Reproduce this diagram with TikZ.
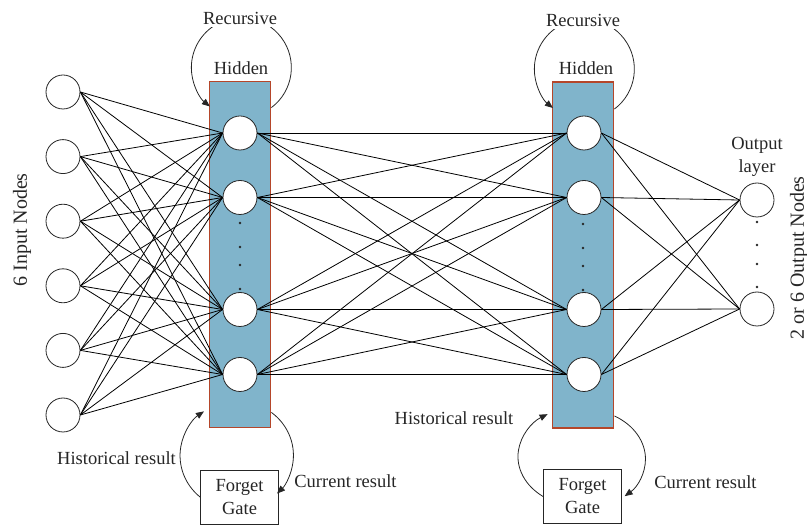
\documentclass[tikz,border=0pt]{standalone}
\usepackage{fontspec}
\setmainfont{Liberation Serif}
\usetikzlibrary{arrows.meta}
\definecolor{barblue}{HTML}{80B4CB}
\definecolor{barrim}{HTML}{B5462A}
\definecolor{ink}{HTML}{262626}
\tikzset{
  lbl/.style={font=\fontsize{18.5}{23}\selectfont, text=ink, inner sep=1pt, align=center},
  sidelbl/.style={font=\fontsize{20}{24}\selectfont, text=ink, inner sep=1pt, rotate=90},
  neuron/.style={circle, draw=ink, fill=white, line width=0.8pt, minimum size=34pt, inner sep=0pt},
  layerbar/.style={rectangle, draw=barrim, fill=barblue, line width=1.9pt, minimum width=61pt, minimum height=346pt, inner sep=0pt},
  gatebox/.style={rectangle, draw=ink, fill=white, line width=0.9pt, minimum width=78pt, minimum height=54pt, inner sep=0pt, align=center, font=\fontsize{18.5}{23}\selectfont, text=ink},
  link/.style={draw=black, line width=0.8pt},
  feedback/.style={draw=ink, line width=0.8pt, -{Triangle[length=8pt,width=6.5pt]}},
  gapdot/.style={fill=ink}
}
\begin{document}
\begin{tikzpicture}[x=1pt, y=-1pt]
\useasboundingbox (0,0) rectangle (807,529);

% hidden layers
\node[layerbar] (barA) at (240,254.5) {};
\node[layerbar] (barB) at (583,255) {};

% input layer
\foreach \k in {1,...,6}
  \node[neuron] (i\k) at (63,{92+64.6*(\k-1)}) {};

% hidden neurons
\foreach \k/\yy in {1/133,2/197.5,3/309.5,4/374.5} {
  \node[neuron] (h\k) at (240,\yy) {};
  \node[neuron] (g\k) at (584,\yy) {};
}

% output neurons
\node[neuron] (o1) at (757,200) {};
\node[neuron] (o2) at (757,309) {};

% fully connected links
\foreach \a in {1,...,6}
  \foreach \b in {1,...,4}
    \draw[link] (i\a.east) -- (h\b.west);
\foreach \a in {1,...,4}
  \foreach \b in {1,...,4}
    \draw[link] (h\a.east) -- (g\b.west);
\foreach \a in {1,...,4}
  \foreach \b in {1,2}
    \draw[link] (g\a.east) -- (o\b.west);

% ellipsis dots
\foreach \yy in {223,247,265,289} {
  \fill[gapdot] (240,\yy) circle (1.3pt);
  \fill[gapdot] (583,\yy+1) circle (1.3pt);
}
\foreach \yy in {222,245,264,287}
  \fill[gapdot] (757,\yy) circle (1.3pt);

% recursive loops above the hidden layers
\draw[feedback] ([yshift=-27pt]barA.north east) arc[start angle=53, end angle=-231, radius=50];
\draw[feedback] ([yshift=-28pt]barB.north east) arc[start angle=53, end angle=-231, radius=50];
\node[lbl, fill=white, inner sep=3pt] (recA) at (240,18) {Recursive};
\node[lbl, fill=white, inner sep=3pt] (recB) at (583,20) {Recursive};
\node[lbl] (hidA) at (241,68) {Hidden};
\node[lbl] (hidB) at (586,68) {Hidden};

% forget gates
\node[gatebox] (gateA) at (239.5,497) {Forget\\Gate};
\node[gatebox] (gateB) at (582.5,496.5) {Forget\\Gate};

% loops through the forget gates
\draw[feedback] ([yshift=16pt]barA.south east) arc[start angle=-52.6, end angle=45, x radius=56, y radius=54];
\draw[feedback] (gateA.west) arc[start angle=130, end angle=235, x radius=56, y radius=54];
\draw[feedback] ([yshift=13pt]barB.south east) arc[start angle=-59.5, end angle=48, x radius=63, y radius=50];
\draw[feedback] (gateB.west) arc[start angle=127, end angle=238, x radius=63, y radius=50];

% labels
\node[lbl] (histA) at (116.5,458) {Historical result};
\node[lbl] (histB) at (454,418) {Historical result};
\node[lbl] (curA) at (345.5,481) {Current result};
\node[lbl] (curB) at (705.5,482) {Current result};
\node[lbl] (outl) at (757,157) {Output\\layer};
\node[sidelbl] (inlbl) at (22,230) {6 Input Nodes};
\node[sidelbl] (outlbl) at (799,258) {2 or 6 Output Nodes};
\end{tikzpicture}
\end{document}
